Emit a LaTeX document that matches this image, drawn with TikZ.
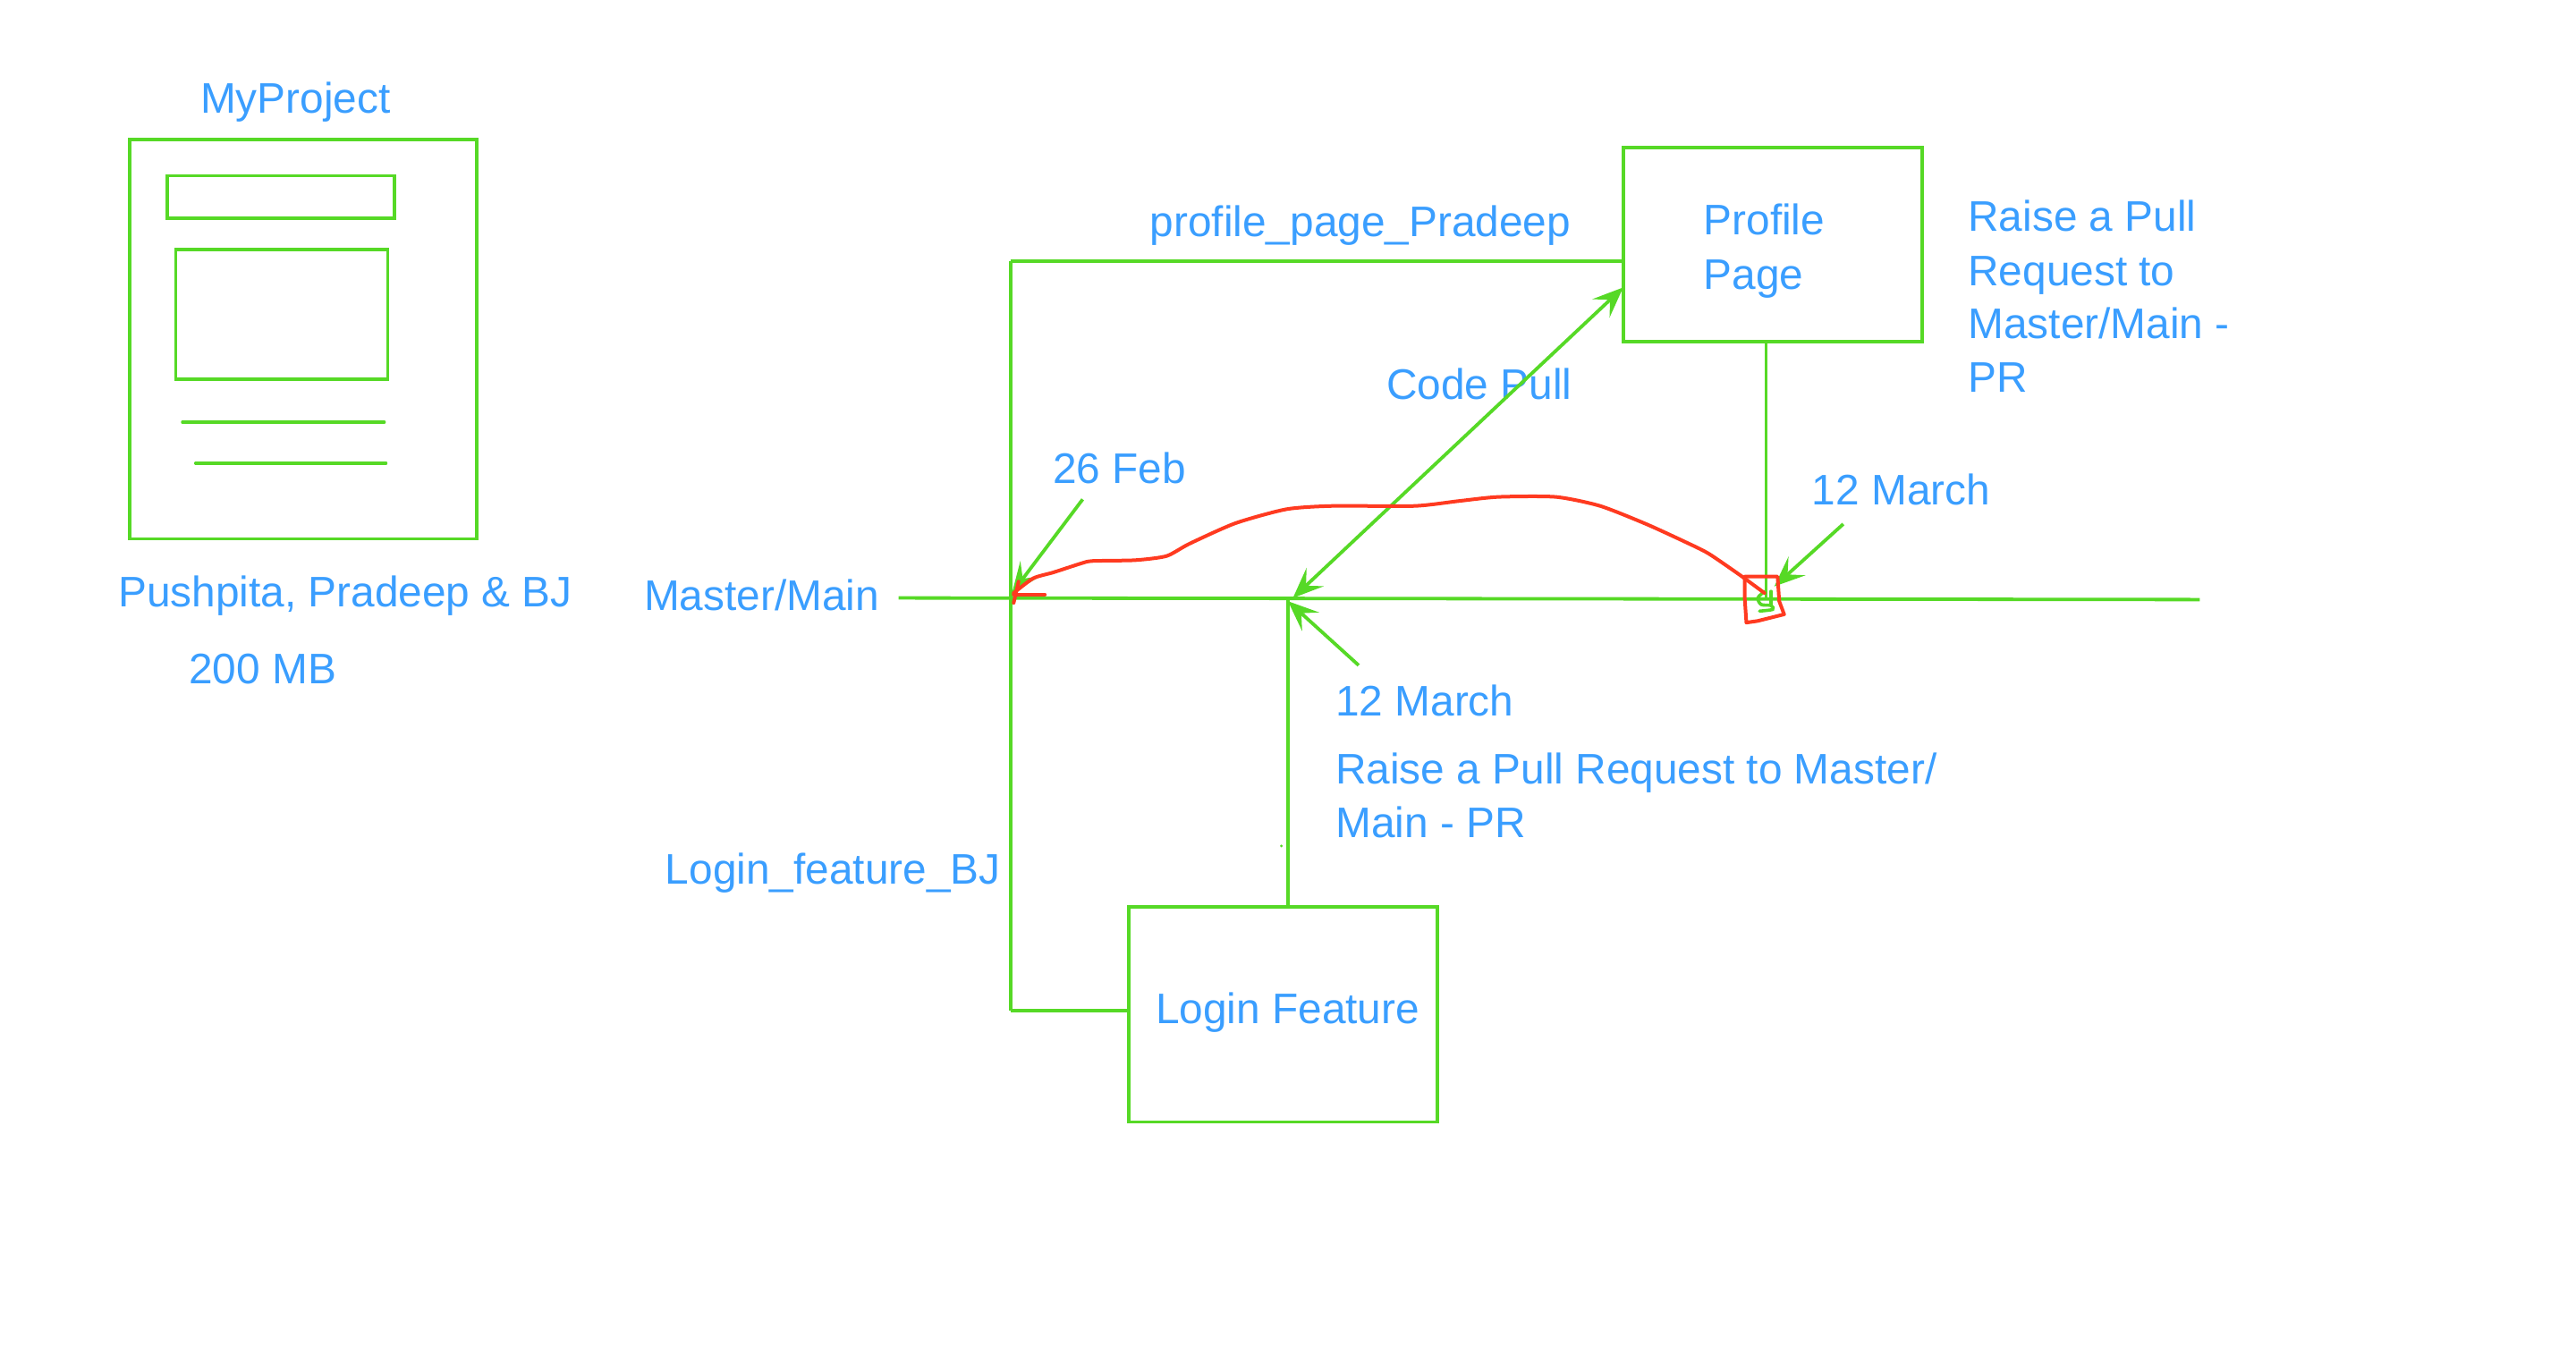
\documentclass[tikz,border=0pt]{standalone}
\usepackage{fontspec}
\setmainfont{Liberation Sans}
\usepackage{tikz}
\usetikzlibrary{arrows.meta, fit, positioning}
\definecolor{wiregreen}{HTML}{56D926}
\definecolor{textblue}{HTML}{3A9EFF}
\definecolor{inkred}{HTML}{FF3A20}
\tikzset{x=0.91837pt, y=-0.91837pt,
  every edge/.style={draw, wiregreen, line width=1.9pt},
  pagebox/.style={draw=wiregreen, line width=1.9pt, inner sep=0pt, outer sep=0pt},
  lbl/.style={textblue, inner sep=0pt, outer sep=0pt, anchor=base west, align=left, font=\fontsize{23.9}{30}\selectfont},
  pointer/.style={-{Stealth[length=17pt, width=14pt, inset=7pt]}},
  inkline/.style={draw=inkred, line width=2pt, line join=round, line cap=round}}

\begin{document}
\begin{tikzpicture}
    \useasboundingbox (0,0) rectangle (1568,829.7);
    % project sheet
    \node[pagebox, fit={(79,85) (290,328)}] (project) {};
    \node[pagebox, fit={(102,107) (240,133)}] (header) {};
    \node[pagebox, fit={(107,152) (236,231)}] (body) {};
    \node[lbl] (ptitle) at (122,69) {MyProject};
    \node[lbl] (owners) at (72,369.5) {Pushpita, Pradeep \& BJ};
    \node[lbl] (size) at (115,416) {200 MB};
    \coordinate (l1a) at (111,257);
    \coordinate (l1b) at (234,257);
    \coordinate (l2a) at (119,282);
    \coordinate (l2b) at (235,282);

    % branch boxes
    \node[pagebox, fit={(988,90) (1170,208)}] (profile) {};
    \node[pagebox, fit={(687,552) (875,683)}] (login) {};
    \node[lbl] (ptext) at (1037,143) {Profile};
    \node[lbl] (ptext2) at (1037,176) {Page};
    \node[lbl] (ltext) at (703.5,623) {Login Feature};

    % labels
    \node[lbl] (master) at (392,371.5) {Master/Main};
    \node[lbl] (pbranch) at (700,144) {profile\_page\_Pradeep};
    \node[lbl] (lbranch) at (405,538) {Login\_feature\_BJ};
    \node[lbl] (codepull) at (844,243) {Code Pull};
    \node[lbl] (feb) at (641,294) {26 Feb};
    \node[lbl] (marchr) at (1103,307.5) {12 March};
    \node[lbl] (marchl) at (813,436) {12 March};
    \node[lbl] (pra) at (1198,141) {Raise a Pull};
    \node[lbl] (prb) at (1198,174) {Request to};
    \node[lbl] (prc) at (1198,206) {Master/Main -};
    \node[lbl] (prd) at (1198,239) {PR};
    \node[lbl] (pre) at (813,477) {Raise a Pull Request to Master/};
    \node[lbl] (prf) at (813,510) {Main - PR};

    % points on the lines
    \coordinate (mstart) at (547,364);
    \coordinate (mend) at (1339,365);
    \coordinate (j1) at (615,364);
    \coordinate (j2) at (784,365);
    \coordinate (j3) at (1075,365);
    \coordinate (ltop) at (615,159);
    \coordinate (lbot) at (615,615);
    \coordinate (pin) at (988,159);
    \coordinate (lin) at (688,615);
    \coordinate (pout) at (1075,208);
    \coordinate (lout) at (784,552);
    \coordinate (pull) at (988,175);
    \coordinate (pullend) at (787,364);
    \coordinate (febtail) at (659,304);
    \coordinate (febtip) at (616,361);
    \coordinate (mrtail) at (1122,319);
    \coordinate (mrtip) at (1080,357);
    \coordinate (mltail) at (827,405);
    \coordinate (mltip) at (784,366);

    \draw   (mstart) edge (mend)
            (l1a) edge[line cap=round, line width=1.6pt] (l1b)
            (l2a) edge[line cap=round, line width=1.6pt] (l2b)
            (lin) edge (lbot)
            (lbot) edge (ltop)
            (ltop) edge (pin)
            (pout) edge (j3)
            (lout) edge (j2)
            (pull) edge[{Stealth[length=17pt, width=14pt, inset=7pt]}-{Stealth[length=17pt, width=14pt, inset=7pt]}] (pullend)
            (febtail) edge[pointer] (febtip)
            (mrtail) edge[pointer] (mrtip)
            (mltail) edge[pointer] (mltip);

    % freehand marks
    \draw[wiregreen, line width=1.8pt, line cap=round] plot[smooth] coordinates {(1074,360) (1070,364) (1072,368) (1078,368.6) (1079,371) (1071,372)};
    \draw[wiregreen, line width=1.8pt, line cap=round] (1078,360) -- (1078,368);
    \fill[wiregreen] (780,515) circle (0.9);
    \draw[inkline] plot[smooth, tension=0.4] coordinates {(1074,361) (1059,350) (1040,337) (1026,330) (1002,319) (974,308) (947,302.5) (912,302.5) (888,305) (861,308) (811,308) (783,310) (752,318.5) (724,331) (710,338.5) (691,341) (665,341.5) (658,343) (641,348.5) (629,352) (617,361)};
    \draw[inkline] (617,367) -- (620,354);
    \draw[inkline] (617,362) -- (636,362);
    \draw[inkline] (1062,351) -- (1082,351) -- (1083,366) -- (1086,374) -- (1070,378) -- (1063,379) -- (1062,364) -- cycle;
\end{tikzpicture}
\end{document}
